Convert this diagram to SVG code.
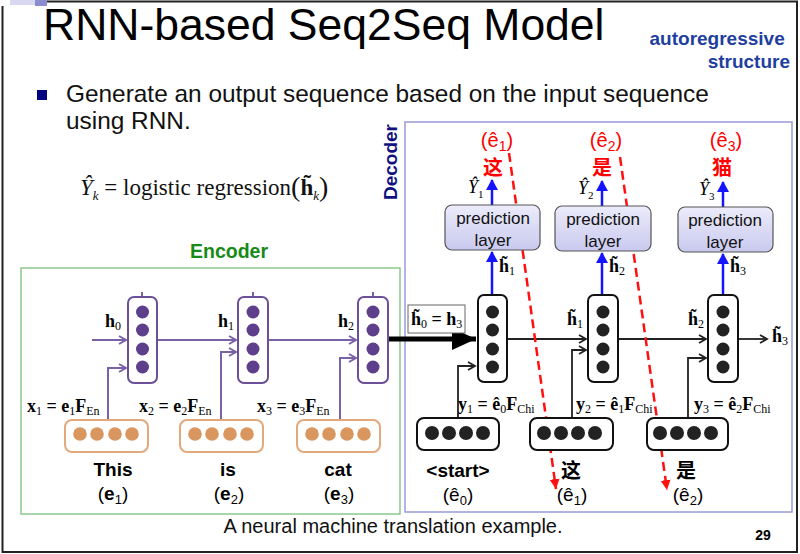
<svg xmlns="http://www.w3.org/2000/svg" width="800" height="554" viewBox="0 0 800 554">
  <style>
    .sans { font-family: "Liberation Sans", Arial, sans-serif; }
    .serif { font-family: "Liberation Serif", "Times New Roman", serif; }
    .cjk { font-family: "Liberation Sans", "Noto Sans CJK SC", sans-serif; font-weight: bold; }
    .mb { font-family: "Liberation Serif", "Times New Roman", serif; font-weight: bold; font-size: 18px; fill: #000; }
    .sub { font-weight: normal; font-size: 12px; }
    .enc-cell { fill: #fff; stroke: #6b4f98; stroke-width: 2; }
    .enc-dot { fill: #5e3f8c; }
    .emb-box { fill: #fff; stroke: #e2a97c; stroke-width: 2; }
    .emb-dot { fill: #d9975f; }
    .dec-cell { fill: #fff; stroke: #111; stroke-width: 2; }
    .dec-dot { fill: #222; }
    .pline { fill: none; stroke: #7b62a8; stroke-width: 2; }
    .kline { fill: none; stroke: #222; stroke-width: 1.8; }
    .bline { fill: none; stroke: #1414ff; stroke-width: 2.5; }
    .rline { fill: none; stroke: #ff1010; stroke-width: 2.5; stroke-dasharray: 9 5; }
    .pred { fill: url(#predGrad); stroke: #555; stroke-width: 1.2; }
    .predtxt { font-family: "Liberation Sans", Arial, sans-serif; font-size: 17px; fill: #111; text-anchor: middle; }
    .word { font-family: "Liberation Sans", Arial, sans-serif; font-size: 19px; font-weight: bold; fill: #000; text-anchor: middle; }
    .tag { font-family: "Liberation Sans", Arial, sans-serif; font-size: 19px; fill: #000; text-anchor: middle; }
    .red { font-family: "Liberation Sans", Arial, sans-serif; font-size: 20px; fill: #ff0000; text-anchor: middle; }
  </style>
  <defs>
    <linearGradient id="predGrad" x1="0" y1="0" x2="0" y2="1">
      <stop offset="0" stop-color="#ececfb"/>
      <stop offset="1" stop-color="#c9c9ef"/>
    </linearGradient>
    <marker id="pa" markerUnits="userSpaceOnUse" markerWidth="12" markerHeight="12" refX="9" refY="5" orient="auto">
      <path d="M2,1 L9,5 L2,9" fill="none" stroke="#7b62a8" stroke-width="2"/>
    </marker>
    <marker id="ka" markerUnits="userSpaceOnUse" markerWidth="12" markerHeight="12" refX="9" refY="5" orient="auto">
      <path d="M2,1 L9,5 L2,9" fill="none" stroke="#222" stroke-width="1.8"/>
    </marker>
    <marker id="bup" markerUnits="userSpaceOnUse" markerWidth="12" markerHeight="14" refX="10" refY="6" orient="auto">
      <path d="M0,0 L11,6 L0,12 Z" fill="#1414ff"/>
    </marker>
    <marker id="ra" markerUnits="userSpaceOnUse" markerWidth="12" markerHeight="12" refX="10" refY="5" orient="auto">
      <path d="M0,0 L10,5 L0,10 Z" fill="#ff1010"/>
    </marker>
    <marker id="big" markerUnits="userSpaceOnUse" markerWidth="26" markerHeight="22" refX="24" refY="11" orient="auto">
      <path d="M0,0 L24,11 L0,22 Z" fill="#000"/>
    </marker>
  </defs>

  <!-- slide frame -->
  <rect width="800" height="554" fill="#fff"/>
  <rect x="10" y="0" width="25" height="5" fill="#d8d8f0"/>
  <rect x="35" y="0" width="12" height="6" fill="#8c8cd0"/>
  <path d="M47,1.5 H797 V552 H2.5 V6" fill="none" stroke="#222" stroke-width="2"/>

  <!-- heading -->
  <text x="43" y="40" class="sans" font-size="44.5" fill="#000">RNN-based Seq2Seq Model</text>
  <text class="sans" font-size="19" font-weight="bold" fill="#1f3f9f" text-anchor="end">
    <tspan x="790" y="45">autoregressive</tspan>
    <tspan x="790" y="68">structure</tspan>
  </text>
  <rect x="37" y="90" width="10" height="10" fill="#000080"/>
  <text class="sans" font-size="24.4" fill="#111">
    <tspan x="66" y="102">Generate an output sequence based on the input sequence</tspan>
    <tspan x="66" y="129">using RNN.</tspan>
  </text>

  <!-- formula -->
  <text class="serif" font-size="23" fill="#111" y="195">
    <tspan x="80" font-style="italic">Ŷ</tspan><tspan font-size="13" font-style="italic" dy="5">k</tspan><tspan dy="-5"> = logistic regression</tspan><tspan font-size="28" dy="1">(</tspan><tspan font-weight="bold" dy="-1">h̃</tspan><tspan font-size="13" font-style="italic" dy="5">k</tspan><tspan font-size="28" dy="-4">)</tspan>
  </text>

  <!-- encoder frame -->
  <g id="encoder">
    <text x="229" y="258" class="sans" font-size="19.5" font-weight="bold" fill="#178a17" text-anchor="middle">Encoder</text>
    <rect x="21" y="268" width="379" height="246" fill="none" stroke="#8cc98c" stroke-width="1.5"/>
  </g>

  <!-- decoder frame -->
  <g id="decoder">
    <rect x="405" y="122" width="387" height="390" fill="none" stroke="#9a9ad8" stroke-width="1.5"/>
    <text transform="translate(397,162) rotate(-90)" class="sans" font-size="19" font-weight="bold" fill="#101080" text-anchor="middle">Decoder</text>
  </g>

  <!-- connectors -->
  <g id="connectors">
    <!-- encoder recurrence -->
    <path class="pline" d="M92,340 H126" marker-end="url(#pa)"/>
    <path class="pline" d="M157,340 H236" marker-end="url(#pa)"/>
    <path class="pline" d="M268,340 H356" marker-end="url(#pa)"/>
    <!-- encoder inputs -->
    <path class="pline" d="M108,420 V368 H126" marker-end="url(#pa)"/>
    <path class="pline" d="M221,420 V352 H236" marker-end="url(#pa)"/>
    <path class="pline" d="M340,420 V358 H356" marker-end="url(#pa)"/>
    <path class="pline" d="M142,297 V292 M253,297 V292 M373,297 V292"/>
    <!-- context hand-off -->
    <path d="M389,339 H476" fill="none" stroke="#000" stroke-width="5" marker-end="url(#big)"/>
    <!-- decoder recurrence -->
    <path class="kline" d="M507,339 H586" marker-end="url(#ka)"/>
    <path class="kline" d="M618,339 H706" marker-end="url(#ka)"/>
    <path class="kline" d="M738,339 H767" marker-end="url(#ka)"/>
    <!-- decoder inputs -->
    <path class="kline" d="M458,418 V366 H475" marker-end="url(#ka)"/>
    <path class="kline" d="M572,418 V350 H586" marker-end="url(#ka)"/>
    <path class="kline" d="M688,418 V358 H706" marker-end="url(#ka)"/>
    <!-- hidden state to prediction layer -->
    <path class="bline" d="M492,295 V252" marker-end="url(#bup)"/>
    <path class="bline" d="M602,295 V253" marker-end="url(#bup)"/>
    <path class="bline" d="M723,295 V254" marker-end="url(#bup)"/>
    <!-- prediction to output -->
    <path class="bline" d="M492,205 V180" marker-end="url(#bup)"/>
    <path class="bline" d="M602,206 V181" marker-end="url(#bup)"/>
    <path class="bline" d="M723,207 V182" marker-end="url(#bup)"/>
    <!-- output fed back as next input -->
    <path class="rline" d="M509,153 L556,489" marker-end="url(#ra)"/>
    <path class="rline" d="M620,157 L667,490" marker-end="url(#ra)"/>
  </g>

  <!-- encoder nodes -->
  <g id="enc-cell-1">
    <rect class="enc-cell" x="128" y="297" width="29" height="86" rx="6"/>
    <circle class="enc-dot" cx="142.5" cy="312" r="6.5"/><circle class="enc-dot" cx="142.5" cy="330" r="6.5"/>
    <circle class="enc-dot" cx="142.5" cy="349" r="6.5"/><circle class="enc-dot" cx="142.5" cy="367" r="6.5"/>
  </g>
  <g id="enc-cell-2">
    <rect class="enc-cell" x="238" y="297" width="30" height="86" rx="6"/>
    <circle class="enc-dot" cx="253" cy="312" r="6.5"/><circle class="enc-dot" cx="253" cy="330" r="6.5"/>
    <circle class="enc-dot" cx="253" cy="349" r="6.5"/><circle class="enc-dot" cx="253" cy="367" r="6.5"/>
  </g>
  <g id="enc-cell-3">
    <rect class="enc-cell" x="358" y="297" width="30" height="86" rx="6"/>
    <circle class="enc-dot" cx="373" cy="312" r="6.5"/><circle class="enc-dot" cx="373" cy="330" r="6.5"/>
    <circle class="enc-dot" cx="373" cy="349" r="6.5"/><circle class="enc-dot" cx="373" cy="367" r="6.5"/>
  </g>
  <g id="enc-labels">
    <text class="mb" x="105" y="327">h<tspan class="sub" dy="3">0</tspan></text>
    <text class="mb" x="218" y="327">h<tspan class="sub" dy="3">1</tspan></text>
    <text class="mb" x="338" y="327">h<tspan class="sub" dy="3">2</tspan></text>
    <text class="mb" x="27" y="412">x<tspan class="sub" dy="3">1</tspan><tspan dy="-3"> = e</tspan><tspan class="sub" dy="3">1</tspan><tspan dy="-3">F</tspan><tspan class="sub" dy="3">En</tspan></text>
    <text class="mb" x="139" y="412">x<tspan class="sub" dy="3">2</tspan><tspan dy="-3"> = e</tspan><tspan class="sub" dy="3">2</tspan><tspan dy="-3">F</tspan><tspan class="sub" dy="3">En</tspan></text>
    <text class="mb" x="257" y="412">x<tspan class="sub" dy="3">3</tspan><tspan dy="-3"> = e</tspan><tspan class="sub" dy="3">3</tspan><tspan dy="-3">F</tspan><tspan class="sub" dy="3">En</tspan></text>
  </g>

  <!-- source embeddings -->
  <g id="src-emb-1">
    <rect class="emb-box" x="65" y="420" width="83" height="32" rx="7"/>
    <circle class="emb-dot" cx="80" cy="434" r="6.8"/><circle class="emb-dot" cx="97" cy="434" r="6.8"/>
    <circle class="emb-dot" cx="115" cy="434" r="6.8"/><circle class="emb-dot" cx="132" cy="434" r="6.8"/>
    <text class="word" x="113" y="476">This</text>
    <text class="tag" x="113" y="500">(<tspan font-weight="bold">e</tspan><tspan font-size="13" dy="4">1</tspan><tspan dy="-4">)</tspan></text>
  </g>
  <g id="src-emb-2">
    <rect class="emb-box" x="180" y="420" width="83" height="32" rx="7"/>
    <circle class="emb-dot" cx="195" cy="434" r="6.8"/><circle class="emb-dot" cx="212" cy="434" r="6.8"/>
    <circle class="emb-dot" cx="230" cy="434" r="6.8"/><circle class="emb-dot" cx="247" cy="434" r="6.8"/>
    <text class="word" x="228" y="476">is</text>
    <text class="tag" x="229" y="500">(<tspan font-weight="bold">e</tspan><tspan font-size="13" dy="4">2</tspan><tspan dy="-4">)</tspan></text>
  </g>
  <g id="src-emb-3">
    <rect class="emb-box" x="297" y="420" width="83" height="32" rx="7"/>
    <circle class="emb-dot" cx="312" cy="434" r="6.8"/><circle class="emb-dot" cx="329" cy="434" r="6.8"/>
    <circle class="emb-dot" cx="347" cy="434" r="6.8"/><circle class="emb-dot" cx="364" cy="434" r="6.8"/>
    <text class="word" x="338" y="476">cat</text>
    <text class="tag" x="339" y="500">(<tspan font-weight="bold">e</tspan><tspan font-size="13" dy="4">3</tspan><tspan dy="-4">)</tspan></text>
  </g>

  <!-- context label -->
  <g id="context">
    <rect x="408" y="305" width="57" height="28" fill="#fff" stroke="#666" stroke-width="1"/>
    <text class="mb" x="411" y="325">h̃<tspan class="sub" dy="3">0</tspan><tspan dy="-3"> = h</tspan><tspan class="sub" dy="3">3</tspan></text>
  </g>

  <!-- decoder nodes -->
  <g id="dec-cell-1">
    <rect class="dec-cell" x="478" y="295" width="29" height="87" rx="6"/>
    <circle class="dec-dot" cx="492.5" cy="312" r="6.5"/><circle class="dec-dot" cx="492.5" cy="330" r="6.5"/>
    <circle class="dec-dot" cx="492.5" cy="349" r="6.5"/><circle class="dec-dot" cx="492.5" cy="367" r="6.5"/>
  </g>
  <g id="dec-cell-2">
    <rect class="dec-cell" x="588" y="295" width="30" height="87" rx="6"/>
    <circle class="dec-dot" cx="603" cy="312" r="6.5"/><circle class="dec-dot" cx="603" cy="330" r="6.5"/>
    <circle class="dec-dot" cx="603" cy="349" r="6.5"/><circle class="dec-dot" cx="603" cy="367" r="6.5"/>
  </g>
  <g id="dec-cell-3">
    <rect class="dec-cell" x="708" y="295" width="30" height="87" rx="6"/>
    <circle class="dec-dot" cx="723" cy="312" r="6.5"/><circle class="dec-dot" cx="723" cy="330" r="6.5"/>
    <circle class="dec-dot" cx="723" cy="349" r="6.5"/><circle class="dec-dot" cx="723" cy="367" r="6.5"/>
  </g>
  <g id="dec-labels">
    <text class="mb" x="567" y="325">h̃<tspan class="sub" dy="3">1</tspan></text>
    <text class="mb" x="688" y="325">h̃<tspan class="sub" dy="3">2</tspan></text>
    <text class="mb" x="772" y="342">h̃<tspan class="sub" dy="3">3</tspan></text>
    <text class="mb" x="499" y="272">h̃<tspan class="sub" dy="3">1</tspan></text>
    <text class="mb" x="609" y="272">h̃<tspan class="sub" dy="3">2</tspan></text>
    <text class="mb" x="730" y="272">h̃<tspan class="sub" dy="3">3</tspan></text>
    <text class="mb" x="458" y="410">y<tspan class="sub" dy="3">1</tspan><tspan dy="-3"> = ê</tspan><tspan class="sub" dy="3">0</tspan><tspan dy="-3">F</tspan><tspan class="sub" dy="3">Chi</tspan></text>
    <text class="mb" x="576" y="410">y<tspan class="sub" dy="3">2</tspan><tspan dy="-3"> = ê</tspan><tspan class="sub" dy="3">1</tspan><tspan dy="-3">F</tspan><tspan class="sub" dy="3">Chi</tspan></text>
    <text class="mb" x="694" y="410">y<tspan class="sub" dy="3">3</tspan><tspan dy="-3"> = ê</tspan><tspan class="sub" dy="3">2</tspan><tspan dy="-3">F</tspan><tspan class="sub" dy="3">Chi</tspan></text>
  </g>

  <!-- target embeddings -->
  <g id="tgt-emb-1">
    <rect class="dec-cell" x="417" y="418" width="82" height="32" rx="7"/>
    <circle class="dec-dot" cx="432" cy="433" r="7"/><circle class="dec-dot" cx="449" cy="433" r="7"/>
    <circle class="dec-dot" cx="466" cy="433" r="7"/><circle class="dec-dot" cx="483" cy="433" r="7"/>
    <text class="word" x="458" y="477">&lt;start&gt;</text>
    <text class="tag" x="458" y="501">(ê<tspan font-size="13" dy="4">0</tspan><tspan dy="-4">)</tspan></text>
  </g>
  <g id="tgt-emb-2">
    <rect class="dec-cell" x="530" y="418" width="83" height="32" rx="7"/>
    <circle class="dec-dot" cx="544" cy="433" r="7"/><circle class="dec-dot" cx="561" cy="433" r="7"/>
    <circle class="dec-dot" cx="578" cy="433" r="7"/><circle class="dec-dot" cx="595" cy="433" r="7"/>
    <text class="cjk" x="571" y="478" font-size="20" text-anchor="middle">这</text>
    <text class="tag" x="572" y="501">(ê<tspan font-size="13" dy="4">1</tspan><tspan dy="-4">)</tspan></text>
  </g>
  <g id="tgt-emb-3">
    <rect class="dec-cell" x="647" y="418" width="81" height="32" rx="7"/>
    <circle class="dec-dot" cx="660" cy="433" r="7"/><circle class="dec-dot" cx="677" cy="433" r="7"/>
    <circle class="dec-dot" cx="694" cy="433" r="7"/><circle class="dec-dot" cx="711" cy="433" r="7"/>
    <text class="cjk" x="686" y="478" font-size="20" text-anchor="middle">是</text>
    <text class="tag" x="688" y="501">(ê<tspan font-size="13" dy="4">2</tspan><tspan dy="-4">)</tspan></text>
  </g>

  <!-- prediction layers and outputs -->
  <g id="pred-1">
    <rect class="pred" x="445" y="205" width="95" height="45" rx="7"/>
    <text class="predtxt" x="493" y="224">prediction</text>
    <text class="predtxt" x="493" y="246">layer</text>
    <text class="serif" x="468" y="193" font-size="18" font-style="italic">Ŷ<tspan font-size="11" font-style="normal" dy="5">1</tspan></text>
    <text class="red" x="497" y="147">(ê<tspan font-size="14" dy="4">1</tspan><tspan dy="-4">)</tspan></text>
    <text class="cjk" x="493" y="175" font-size="20" fill="#ff0000" text-anchor="middle">这</text>
  </g>
  <g id="pred-2">
    <rect class="pred" x="555" y="206" width="96" height="45" rx="7"/>
    <text class="predtxt" x="603" y="225">prediction</text>
    <text class="predtxt" x="603" y="247">layer</text>
    <text class="serif" x="578" y="194" font-size="18" font-style="italic">Ŷ<tspan font-size="11" font-style="normal" dy="5">2</tspan></text>
    <text class="red" x="606" y="147">(ê<tspan font-size="14" dy="4">2</tspan><tspan dy="-4">)</tspan></text>
    <text class="cjk" x="602" y="175" font-size="20" fill="#ff0000" text-anchor="middle">是</text>
  </g>
  <g id="pred-3">
    <rect class="pred" x="678" y="207" width="95" height="45" rx="7"/>
    <text class="predtxt" x="725" y="226">prediction</text>
    <text class="predtxt" x="725" y="248">layer</text>
    <text class="serif" x="699" y="195" font-size="18" font-style="italic">Ŷ<tspan font-size="11" font-style="normal" dy="5">3</tspan></text>
    <text class="red" x="726" y="147">(ê<tspan font-size="14" dy="4">3</tspan><tspan dy="-4">)</tspan></text>
    <text class="cjk" x="722" y="175" font-size="20" fill="#ff0000" text-anchor="middle">猫</text>
  </g>

  <!-- caption and page number -->
  <text x="393" y="533" class="sans" font-size="20" fill="#111" text-anchor="middle">A neural machine translation example.</text>
  <text x="763" y="540" class="sans" font-size="14" font-weight="bold" fill="#000" text-anchor="middle">29</text>
</svg>
